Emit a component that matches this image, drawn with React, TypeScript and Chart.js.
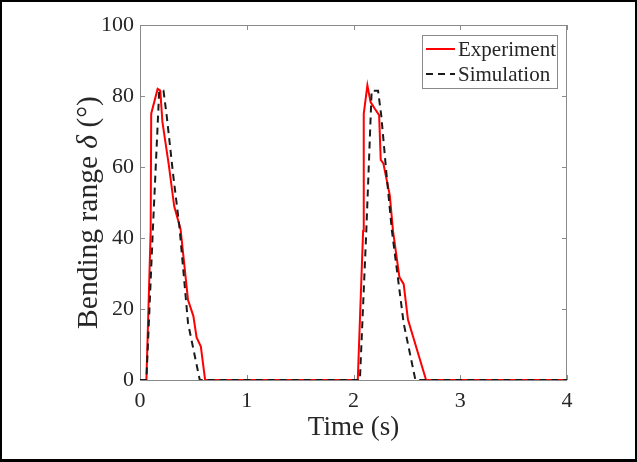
import React, { useEffect, useRef } from "react";
import { Chart, registerables } from "chart.js";

Chart.register(...registerables);

// ---- data ----
const expTime = [0, 0.06, 0.1, 0.105, 0.165, 0.19, 0.21, 0.27, 0.32, 0.38, 0.45, 0.5, 0.53, 0.57, 0.61, 2.04, 2.09, 2.096, 2.13, 2.16, 2.2, 2.24, 2.255, 2.28, 2.34, 2.37, 2.43, 2.47, 2.51, 2.68, 4.0];
const expValue = [0, 0, 42, 75, 82, 81.5, 72.7, 60.5, 49, 42.5, 22.5, 18, 12, 9.4, 0, 0, 42, 75, 83, 78.3, 76.4, 74.6, 62, 61, 52, 42, 29, 27, 17, 0, 0];
const simTime = [0, 0.06, 0.12, 0.18, 0.22, 0.25, 0.31, 0.37, 0.45, 0.56, 2.06, 2.12, 2.17, 2.23, 2.26, 2.31, 2.36, 2.47, 2.58, 4.0];
const simValue = [0, 0, 42, 81.5, 81.5, 74.5, 58, 43, 16, 0, 0, 42, 81.5, 81.5, 74.5, 57.7, 42, 16, 0, 0];

const xTicks = [0, 1, 2, 3, 4];
const yTicks = [0, 20, 40, 60, 80, 100];
const seriesNames = ["Experiment", "Simulation"];
const xTitle = "Time (s)";
const yTitleParts = ["Bending range ", "δ", " (°)"];

const SERIF = "'Liberation Serif', 'Times New Roman', serif";
const TEXT = "#262626";
const AXIS = "#8a8a8a";
const RED = "#ff0000";
const BLACK = "#1a1a1a";
const DASH = [7, 5];

const toPoints = (t: number[], v: number[]) => t.map((x, i) => ({ x, y: v[i] }));

const lookPlugin = {
  id: "matlabLook",
  beforeDraw(chart: any) {
    const { ctx, width, height } = chart;
    ctx.save();
    ctx.fillStyle = "#000";
    ctx.fillRect(0, 0, width, height);
    ctx.fillStyle = "#fff";
    ctx.fillRect(2, 2, width - 4, height - 5);
    ctx.restore();
  },
  beforeDatasetsDraw(chart: any) {
    const { ctx, chartArea: a, scales } = chart;
    ctx.save();
    ctx.strokeStyle = AXIS;
    ctx.lineWidth = 1;
    ctx.strokeRect(a.left + 0.5, a.top + 0.5, a.right - a.left - 1, a.bottom - a.top);
    const tl = 5;
    ctx.beginPath();
    xTicks.forEach((v) => {
      const px = Math.round(scales.x.getPixelForValue(v)) + 0.5;
      ctx.moveTo(px, a.bottom);
      ctx.lineTo(px, a.bottom - tl);
      ctx.moveTo(px, a.top);
      ctx.lineTo(px, a.top + tl);
    });
    yTicks.forEach((v) => {
      const py = Math.round(scales.y.getPixelForValue(v)) + 0.5;
      ctx.moveTo(a.left, py);
      ctx.lineTo(a.left + tl, py);
      ctx.moveTo(a.right, py);
      ctx.lineTo(a.right - tl, py);
    });
    ctx.stroke();
    ctx.restore();
  },
  afterDraw(chart: any) {
    const { ctx, chartArea: a } = chart;
    ctx.save();
    // legend
    const bw = 135;
    const bh = 53;
    const bx = a.right - 10 - bw;
    const by = a.top + 10;
    ctx.fillStyle = "#fff";
    ctx.fillRect(bx, by, bw, bh);
    ctx.strokeStyle = AXIS;
    ctx.lineWidth = 1;
    ctx.strokeRect(bx + 0.5, by + 0.5, bw, bh);
    const rows = [by + 14, by + 39];
    const styles = [
      { color: RED, dash: [] as number[] },
      { color: BLACK, dash: DASH },
    ];
    rows.forEach((ry, i) => {
      ctx.beginPath();
      ctx.strokeStyle = styles[i].color;
      ctx.lineWidth = 2;
      ctx.setLineDash(styles[i].dash);
      ctx.moveTo(bx + 4, ry);
      ctx.lineTo(bx + 33, ry);
      ctx.stroke();
      ctx.setLineDash([]);
      ctx.fillStyle = TEXT;
      ctx.font = `21px ${SERIF}`;
      ctx.textAlign = "left";
      ctx.textBaseline = "middle";
      ctx.fillText(seriesNames[i], bx + 36, ry + 1);
    });
    // y title with italic delta
    const fonts = [`29.5px ${SERIF}`, `italic 29.5px ${SERIF}`, `29.5px ${SERIF}`];
    const widths = yTitleParts.map((p, i) => {
      ctx.font = fonts[i];
      return ctx.measureText(p).width;
    });
    const total = widths.reduce((s, w) => s + w, 0);
    ctx.translate(89, (a.top + a.bottom) / 2 + 10);
    ctx.rotate(-Math.PI / 2);
    ctx.fillStyle = TEXT;
    ctx.textAlign = "left";
    ctx.textBaseline = "middle";
    let cx = -total / 2;
    yTitleParts.forEach((p, i) => {
      ctx.font = fonts[i];
      ctx.fillText(p, cx, 0);
      cx += widths[i];
    });
    ctx.restore();
  },
};

export default function App() {
  const ref = useRef<HTMLCanvasElement | null>(null);

  useEffect(() => {
    if (!ref.current) return;
    const chart = new Chart(ref.current, {
      type: "line",
      data: {
        datasets: [
          {
            label: seriesNames[0],
            data: toPoints(expTime, expValue),
            borderColor: RED,
            borderWidth: 2,
            pointRadius: 0,
            tension: 0,
            fill: false,
            order: 2,
          },
          {
            label: seriesNames[1],
            data: toPoints(simTime, simValue),
            borderColor: BLACK,
            borderWidth: 2,
            borderDash: DASH,
            pointRadius: 0,
            tension: 0,
            fill: false,
            order: 1,
          },
        ],
      },
      options: {
        responsive: false,
        devicePixelRatio: 1,
        animation: false,
        parsing: false as any,
        layout: { padding: { left: 0, right: 70, top: 25, bottom: 0 } },
        plugins: {
          legend: { display: false },
          tooltip: { enabled: false },
        },
        scales: {
          x: {
            type: "linear",
            min: 0,
            max: 4,
            afterBuildTicks: (s: any) => {
              s.ticks = xTicks.map((v) => ({ value: v }));
            },
            afterFit: (s: any) => {
              s.height = 82;
            },
            grid: { display: false, drawTicks: false },
            border: { display: false },
            ticks: {
              color: TEXT,
              font: { family: SERIF, size: 22 },
              padding: 8,
              maxRotation: 0,
            },
            title: {
              display: true,
              text: xTitle,
              color: TEXT,
              font: { family: SERIF, size: 27 },
              padding: { top: 0, bottom: 18 },
            },
          },
          y: {
            type: "linear",
            min: 0,
            max: 100,
            afterBuildTicks: (s: any) => {
              s.ticks = yTicks.map((v) => ({ value: v }));
            },
            afterFit: (s: any) => {
              s.width = 140;
            },
            grid: { display: false, drawTicks: false },
            border: { display: false },
            ticks: {
              color: TEXT,
              font: { family: SERIF, size: 22 },
              padding: 6,
            },
          },
        },
      },
      plugins: [lookPlugin],
    });
    return () => chart.destroy();
  }, []);

  return (
    <canvas
      ref={ref}
      width={637}
      height={462}
      style={{ position: "fixed", left: 0, top: 0, width: 637, height: 462 }}
    />
  );
}
